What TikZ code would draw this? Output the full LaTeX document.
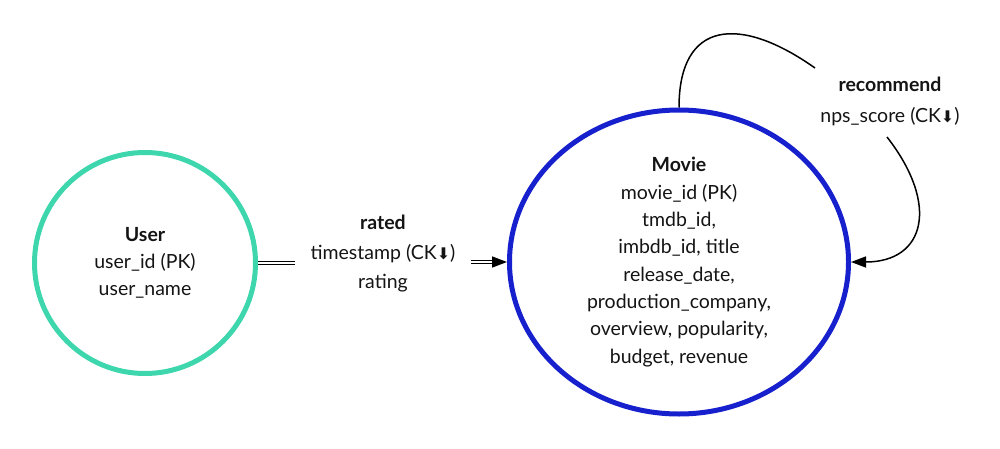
\documentclass[tikz,border=0pt]{standalone}
\usepackage{fontspec}
\setmainfont{Lato}
\newfontfamily\symfont{DejaVu Sans}
\usetikzlibrary{arrows.meta,shapes.geometric}
\definecolor{userc}{RGB}{62,214,172}
\definecolor{moviec}{RGB}{22,32,204}
\definecolor{txt}{RGB}{20,20,20}
\newcommand{\ckdown}{{\symfont\fontsize{16}{16}\selectfont ⬇}}
\tikzset{
  entity/.style={draw, line width=5pt, inner sep=0pt, align=center, text=txt,
    font=\fontsize{19.5}{27.3}\selectfont},
  rel/.style={align=center, text=txt, inner xsep=15pt, inner ysep=2pt,
    font=\fontsize{19.5}{29.5}\selectfont},
  conn/.style={line width=1.5pt, draw=black},
  dbl/.style={double, double distance=2.2pt, line width=1.3pt, draw=black},
  tip/.style={-{Triangle[length=15pt,width=11pt]}},
}
\begin{document}
\begin{tikzpicture}[x=1pt,y=-1pt]
\useasboundingbox (0,0) rectangle (1000,449);
\node[entity, circle, draw=userc, minimum size=221pt] (user) at (145,263)
  {\textbf{User}\\user\_id (PK)\\user\_name};
\node[entity, ellipse, draw=moviec, minimum width=339pt, minimum height=304pt] (movie) at (679,262)
  {\textbf{Movie}\\movie\_id (PK)\\tmdb\_id,\\imbdb\_id, title\\release\_date,\\production\_company,\\overview, popularity,\\budget, revenue};
\node[rel] (rated) at (383,254) {\textbf{rated}\\timestamp (CK\ckdown)\\rating};
\node[rel, font=\fontsize{19.5}{31}\selectfont] (rec) at (890,101) {\textbf{recommend}\\nps\_score (CK\ckdown)};
\coordinate (r1) at (815,68);
\coordinate (r2) at (887,137);
\draw[dbl] (user.east) -- (user.east -| rated.west);
\draw[dbl, shorten >=12pt] (movie.west -| rated.east) -- (movie.west);
\draw[conn, tip, shorten <=24pt] (movie.west -| rated.east) -- (movie.west);
\draw[conn] (movie.north) .. controls (679,20) and (740,15) .. (r1);
\draw[conn, tip] (r2) .. controls (940,205) and (925,262) .. (movie.east);
\end{tikzpicture}
\end{document}
